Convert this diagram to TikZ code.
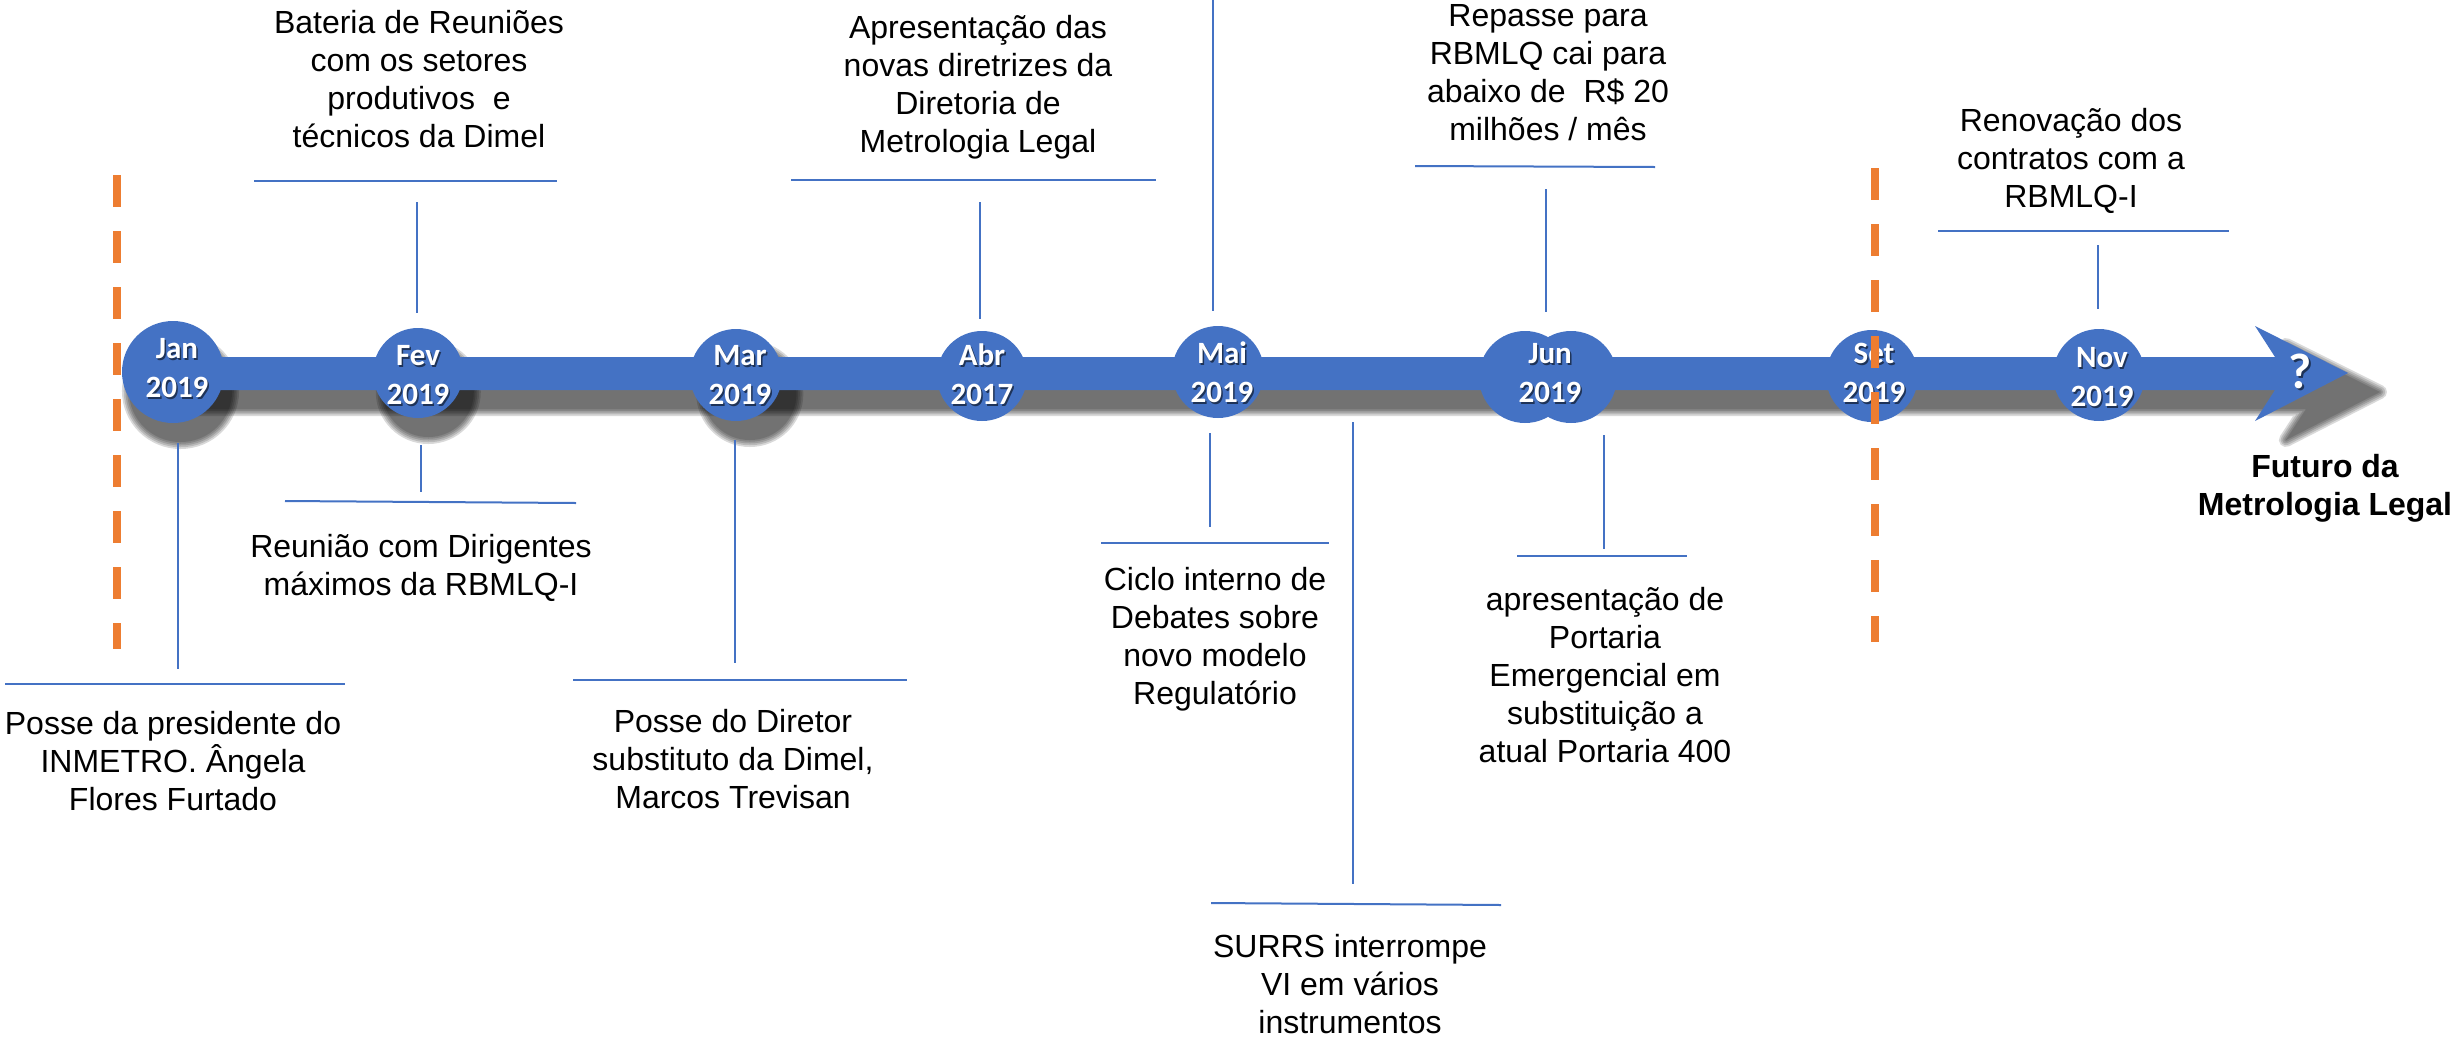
\documentclass[tikz,border=0pt]{standalone}
\usepackage{fontspec}
\setmainfont{Liberation Sans}
\newfontfamily\calfont{Carlito}
\definecolor{mainblue}{HTML}{4472C4}
\definecolor{lineblue}{HTML}{4472C4}
\definecolor{dashorange}{HTML}{ED7D31}
\newcommand\mlt[1]{\vtop{\halign{\hfil##\hfil\cr#1\crcr}}}
\newcommand\tlbarpath{(173,390) -- (2275,390) -- (2255,421) -- (2348,373) -- (2255,326) -- (2275,357) -- (173,357) -- cycle}
\newcommand\tldotpath{(173,372) circle[radius=51pt] (418,373) circle[radius=45pt] (736,375) circle[radius=46pt]}
\begin{document}
\begin{tikzpicture}[x=1pt,y=-1pt,
  conn/.style={draw=lineblue, line width=2pt},
  evtext/.style={font=\fontsize{32}{38}\selectfont, inner sep=0pt, anchor=base, text=black},
  mdot/.style={circle, fill=mainblue, inner sep=0pt, minimum size=#1},
  mlab/.style={font=\calfont\bfseries\fontsize{31}{39}\selectfont, text=white, inner sep=0pt, anchor=base},
  mlabsh/.style={mlab, text=black, text opacity=0.55},
  odash/.style={draw=dashorange, line width=8.5pt, dash pattern=on 32pt off 24pt}]

\useasboundingbox (0,0) rectangle (2458,1037);

% ---- drop shadow of the timeline
\begin{scope}[shift={(5.6,19)}, xscale=1.0112]
  \foreach \w in {14,10.5,7,3.5,0.01}{
    \begin{scope}[transparency group, opacity=0.15]
      \filldraw[black, line width=\w pt, line join=round] \tlbarpath;
    \end{scope}
  }
  \foreach \w in {14,10.5,7,3.5,0.01}{
    \begin{scope}[transparency group, opacity=0.15]
      \filldraw[black, line width=\w pt] \tldotpath;
    \end{scope}
  }
\end{scope}

% ---- bar with arrow head
\fill[mainblue] \tlbarpath;

% ---- month circles
\node[mdot=102pt] (jan) at (173,372) {};
\node[mdot=90pt]  (fev) at (418,373) {};
\node[mdot=92pt]  (mar) at (736,375) {};
\node[mdot=90pt]  (abr) at (982,376) {};
\node[mdot=92pt]  (mai) at (1218,372) {};
\node[mdot=92pt]  (junA) at (1525,377) {};
\node[mdot=92pt]  (junB) at (1571,377) {};
\node[mdot=92pt]  (set) at (1872,376) {};
\node[mdot=92pt]  (nov) at (2099,375) {};

% ---- month labels
\foreach \nm/\lx/\ly/\ma/\yr in {janL/177/358/Jan/2019, fevL/418/365/Fev/2019,
  marL/740/365/Mar/2019, abrL/982/365/Abr/2017, maiL/1222/363/Mai/2019,
  junL/1550/363/Jun/2019, setL/1874/363/Set/2019, novL/2102/367/Nov/2019}{
  \node[mlabsh, xshift=1.5pt, yshift=-2pt] (\nm s) at (\lx,\ly) {\mlt{\ma\cr\yr}};
  \node[mlab] (\nm) at (\lx,\ly) {\mlt{\ma\cr\yr}};
}
\node[mlabsh, font=\calfont\bfseries\fontsize{50}{50}\selectfont, xshift=2pt, yshift=-2pt] (qs) at (2300,388) {?};
\node[mlab, font=\calfont\bfseries\fontsize{50}{50}\selectfont] (q) at (2300,388) {?};

% ---- connector end points
\coordinate (janA) at (178,443);  \coordinate (janB) at (178,669);
\coordinate (janH1) at (5,684);   \coordinate (janH2) at (345,684);
\coordinate (fevTH1) at (254,181); \coordinate (fevTH2) at (557,181);
\coordinate (fevTA) at (417,202);  \coordinate (fevTB) at (417,313);
\coordinate (fevBA) at (421,445);  \coordinate (fevBB) at (421,492);
\coordinate (fevBH1) at (285,501); \coordinate (fevBH2) at (576,503);
\coordinate (marA) at (735,440);   \coordinate (marB) at (735,663);
\coordinate (marH1) at (573,680);  \coordinate (marH2) at (907,680);
\coordinate (abrH1) at (791,180);  \coordinate (abrH2) at (1156,180);
\coordinate (abrA) at (980,202);   \coordinate (abrB) at (980,319);
\coordinate (maiTA) at (1213,0);   \coordinate (maiTB) at (1213,311);
\coordinate (maiBA) at (1210,433); \coordinate (maiBB) at (1210,527);
\coordinate (maiH1) at (1101,543); \coordinate (maiH2) at (1329,543);
\coordinate (surA) at (1353,422);  \coordinate (surB) at (1353,884);
\coordinate (surH1) at (1211,903); \coordinate (surH2) at (1501,905);
\coordinate (junTH1) at (1415,166); \coordinate (junTH2) at (1655,167);
\coordinate (junTA) at (1546,189); \coordinate (junTB) at (1546,312);
\coordinate (junBA) at (1604,435); \coordinate (junBB) at (1604,549);
\coordinate (junBH1) at (1517,556); \coordinate (junBH2) at (1687,556);
\coordinate (novH1) at (1938,231); \coordinate (novH2) at (2229,231);
\coordinate (novA) at (2098,245);  \coordinate (novB) at (2098,309);

\draw[conn] (janA) -- (janB);   \draw[conn] (janH1) -- (janH2);
\draw[conn] (fevTH1) -- (fevTH2); \draw[conn] (fevTA) -- (fevTB);
\draw[conn] (fevBA) -- (fevBB); \draw[conn] (fevBH1) -- (fevBH2);
\draw[conn] (marA) -- (marB);   \draw[conn] (marH1) -- (marH2);
\draw[conn] (abrH1) -- (abrH2); \draw[conn] (abrA) -- (abrB);
\draw[conn] (maiTA) -- (maiTB);
\draw[conn] (maiBA) -- (maiBB); \draw[conn] (maiH1) -- (maiH2);
\draw[conn] (surA) -- (surB);   \draw[conn] (surH1) -- (surH2);
\draw[conn] (junTH1) -- (junTH2); \draw[conn] (junTA) -- (junTB);
\draw[conn] (junBA) -- (junBB); \draw[conn] (junBH1) -- (junBH2);
\draw[conn] (novH1) -- (novH2); \draw[conn] (novA) -- (novB);

% ---- event texts
\node[evtext] (tJan) at (173,734) {\mlt{Posse da presidente do\cr INMETRO. Ângela\cr Flores Furtado}};
\node[evtext] (tFevT) at (419,33) {\mlt{Bateria de Reuniões\cr com os setores\cr produtivos~ e\cr técnicos da Dimel}};
\node[evtext] (tFevB) at (421,557) {\mlt{Reunião com Dirigentes\cr máximos da RBMLQ-I}};
\node[evtext] (tMar) at (733,732) {\mlt{Posse do Diretor\cr substituto da Dimel,\cr Marcos Trevisan}};
\node[evtext] (tAbr) at (978,38) {\mlt{Apresentação das\cr novas diretrizes da\cr Diretoria de\cr Metrologia Legal}};
\node[evtext] (tMai) at (1215,590) {\mlt{Ciclo interno de\cr Debates sobre\cr novo modelo\cr Regulatório}};
\node[evtext] (tSur) at (1350,957) {\mlt{SURRS interrompe\cr VI em vários\cr instrumentos}};
\node[evtext] (tJunT) at (1548,26) {\mlt{Repasse para\cr RBMLQ cai para\cr abaixo de~ R\$ 20\cr milhões / mês}};
\node[evtext] (tJunB) at (1605,610) {\mlt{apresentação de\cr Portaria\cr Emergencial em\cr substituição a\cr atual Portaria 400}};
\node[evtext] (tNov) at (2071,131) {\mlt{Renovação dos\cr contratos com a\cr RBMLQ-I}};
\node[evtext, font=\bfseries\fontsize{32}{38}\selectfont] (tFut) at (2325,477) {\mlt{Futuro da\cr Metrologia Legal}};

% ---- orange dashed markers
\coordinate (d1a) at (117,175);  \coordinate (d1b) at (117,649);
\coordinate (d2a) at (1875,168); \coordinate (d2b) at (1875,642);
\draw[odash] (d1a) -- (d1b);
\draw[odash] (d2a) -- (d2b);
\end{tikzpicture}
\end{document}
